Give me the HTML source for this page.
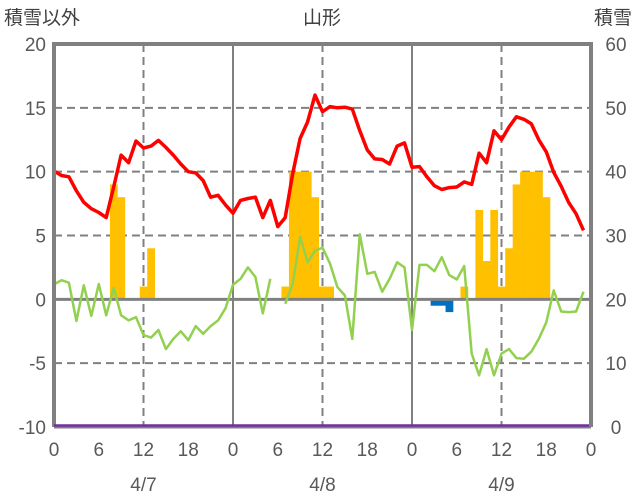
<!DOCTYPE html>
<html><head><meta charset="utf-8"><style>
body{margin:0;background:#fff;}
svg{display:block;font-family:"Liberation Sans","Noto Sans CJK JP",sans-serif;}
</style></head><body>
<svg id="chart" width="636" height="501" viewBox="0 0 636 501">
<text x="4" y="24" font-size="19" fill="#404040">積雪以外</text>
<text x="322" y="24" font-size="19" fill="#404040" text-anchor="middle">山形</text>
<text x="632" y="24" font-size="19" fill="#404040" text-anchor="end">積雪</text>
<g id="grid"></g><g id="bars"></g><g id="lines"></g><g id="frame"></g><g id="labels"></g>
</svg>
<script>
const hours=[...Array(72).keys()];
const redSeries=[10.05,9.7,9.6,8.5,7.6,7.1,6.8,6.4,8.8,11.3,10.7,12.4,11.85,12.0,12.45,11.9,11.3,10.6,10.0,9.9,9.3,8.0,8.15,7.4,6.75,7.75,7.9,8.0,6.4,7.75,5.7,6.4,9.85,12.6,13.9,16.0,14.7,15.1,15.0,15.05,14.9,13.2,11.7,11.0,10.95,10.6,12.0,12.25,10.35,10.4,9.6,8.9,8.6,8.75,8.8,9.2,9.0,11.45,10.7,13.2,12.5,13.5,14.3,14.1,13.75,12.5,11.55,9.95,8.85,7.6,6.7,5.4];
const greenSeries=[1.17,1.5,1.3,-1.7,1.1,-1.3,1.2,-1.25,0.9,-1.25,-1.65,-1.4,-2.8,-3.0,-2.4,-3.9,-3.1,-2.5,-3.2,-2.1,-2.7,-2.1,-1.65,-0.7,1.15,1.6,2.5,1.75,-1.1,1.6,null,-0.35,1.2,4.9,2.9,3.8,4.05,2.8,0.96,0.3,-3.1,5.1,2.0,2.15,0.6,1.6,2.9,2.5,-2.4,2.7,2.7,2.2,3.3,1.9,1.55,2.6,-4.25,-5.95,-3.9,-5.95,-4.25,-3.9,-4.6,-4.65,-4.1,-3.1,-1.8,0.7,-0.95,-1.0,-0.95,0.6];
const barHours=[8,9,12,13,31,32,33,34,35,36,37,55,57,58,59,60,61,62,63,64,65,66];
const barValues=[9,8,1,4,1,10,10,10,8,1,1,1,7,3,7,1,4,9,10,10,10,8];
const negHours=[51,52,53];
const negValues=[-0.5,-0.5,-1.0];
const leftTicks=[20,15,10,5,0,-5,-10];
const rightTicks=[60,50,40,30,20,10,0];
const hourTicks=[0,6,12,18,0];
const dateLabels=["4/7","4/8","4/9"];
const X0=54,X1=591,Y0=44,Y1=427;
const x=h=>X0+(X1-X0)*h/72;
const y=v=>Y1-(v+10)*(Y1-Y0)/30;
const yR=v=>Y1-v*(Y1-Y0)/60;
const NS="http://www.w3.org/2000/svg";
function mk(p,t,a){const e=document.createElementNS(NS,t);for(const k in a)e.setAttribute(k,a[k]);p.appendChild(e);return e;}
const grid=document.getElementById('grid'),bars=document.getElementById('bars'),lines=document.getElementById('lines'),frame=document.getElementById('frame'),labels=document.getElementById('labels');
leftTicks.forEach(v=>{if(v===0||v===20||v===-10)return;
 const l=mk(grid,'line',{x1:X0,x2:X1,y1:y(v),y2:y(v),stroke:'#808080','stroke-width':2,'stroke-dasharray':'8,5'});
 
 });
[12,36,60].forEach(h=>{const l=mk(grid,'line',{x1:x(h),x2:x(h),y1:Y0,y2:Y1,stroke:'#808080','stroke-width':2,'stroke-dasharray':'8,5'});
 
 });
[24,48].forEach(h=>{const l=mk(grid,'line',{x1:x(h),x2:x(h),y1:Y0,y2:Y1,stroke:'#808080','stroke-width':2});
 
 });
const bw=(X1-X0)/72;
barHours.forEach((h,i)=>{const v=barValues[i];
 const r=mk(bars,'rect',{x:x(h)-bw/2,y:y(v),width:bw+0.3,height:y(0)-y(v),fill:'#FFC000'});
 
 });
negHours.forEach((h,i)=>{const v=negValues[i];
 const r=mk(bars,'rect',{x:x(h)-bw/2,y:y(0),width:bw+0.3,height:y(v)-y(0),fill:'#0070C0'});
 
 });
const z=mk(lines,'line',{x1:X0,x2:X1,y1:y(0),y2:y(0),stroke:'#808080','stroke-width':3});


function path(arr){let d='',pen=false;arr.forEach((v,i)=>{if(v===null){pen=false;return;}d+=(pen?'L':'M')+x(hours[i]).toFixed(1)+','+y(v).toFixed(1);pen=true;});return d;}
const g=mk(lines,'path',{d:path(greenSeries),fill:'none',stroke:'#92D050','stroke-width':2.5,'stroke-linejoin':'round'});


const r=mk(lines,'path',{d:path(redSeries),fill:'none',stroke:'#FF0000','stroke-width':3.5,'stroke-linejoin':'round'});


const fr=mk(frame,'path',{d:`M${X0},${Y1}V${Y0}H${X1}V${Y1}`,fill:'none',stroke:'#808080','stroke-width':4});


const b=mk(frame,'line',{x1:X0,x2:X1,y1:Y1,y2:Y1,stroke:'#808080','stroke-width':3});


const pu=mk(frame,'line',{x1:X0,x2:X1-2,y1:Y1-1.5,y2:Y1-1.5,stroke:'#7030A0','stroke-width':2.5});


leftTicks.forEach(v=>{const t=mk(labels,'text',{x:46,y:y(v)+7,'font-size':19,fill:'#595959','text-anchor':'end'});t.textContent=v;
 
 });
rightTicks.forEach(v=>{const t=mk(labels,'text',{x:616,y:yR(v)+7,'font-size':19,fill:'#595959','text-anchor':'middle'});t.textContent=v;
 
 });
for(let d=0;d<3;d++){hourTicks.forEach((hv,j)=>{if(d<2&&j===4)return;const h=d*24+j*6;
 const t=mk(labels,'text',{x:x(h),y:456,'font-size':19,fill:'#595959','text-anchor':'middle'});t.textContent=hv;
 
 });
 const t=mk(labels,'text',{x:x(d*24+12),y:491,'font-size':19,fill:'#595959','text-anchor':'middle'});t.textContent=dateLabels[d];
 
 }
</script>
</body></html>
